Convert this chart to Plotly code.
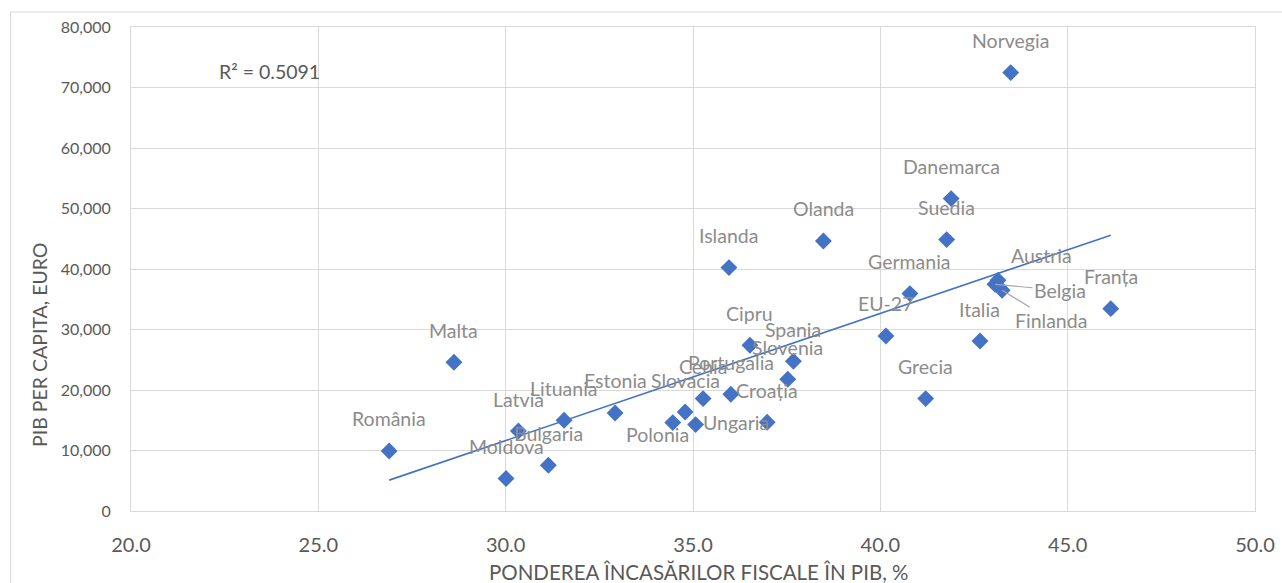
import numpy as np
import plotly.graph_objects as go

# Country names, tax revenue share of GDP (%) and GDP per capita (EUR)
countries = [
    "Norvegia", "Danemarca", "Suedia", "Olanda", "Islanda", "Germania",
    "Austria", "Belgia", "Finlanda", "Franța", "EU-27", "Italia", "Grecia",
    "Cipru", "Spania", "Slovenia", "Portugalia", "Cehia", "Croația",
    "Slovacia", "Polonia", "Ungaria", "Estonia", "Lituania", "Latvia",
    "Bulgaria", "Moldova", "România", "Malta",
]
tax_share = [
    43.48, 41.89, 41.77, 38.48, 35.96, 40.79,
    43.14, 43.06, 43.25, 46.15, 40.15, 42.66, 41.21,
    36.52, 37.68, 37.53, 36.01, 35.27, 36.98,
    34.79, 34.46, 35.07, 32.92, 31.56, 30.34,
    31.14, 30.01, 26.89, 28.62,
]
gdp_pc = [
    72460, 51640, 44860, 44630, 40230, 35930,
    38130, 37470, 36480, 33450, 28930, 28100, 18580,
    27390, 24740, 21770, 19290, 18580, 14660,
    16360, 14610, 14280, 16200, 14990, 13220,
    7550, 5360, 9920, 24580,
]

x_ticks = [20, 25, 30, 35, 40, 45, 50]
y_ticks = [0, 10000, 20000, 30000, 40000, 50000, 60000, 70000, 80000]
r2_text = "R² = 0.5091"

BLUE = "#4472C4"
GRID = "#D9D9D9"
TICK = "#595959"
LABEL = "#8C8C8C"
FONT = "Lato"

fig = go.Figure()

# Linear trend line across the observed range
xs = np.array(tax_share)
ys = np.array(gdp_pc)
slope, intercept = np.polyfit(xs, ys, 1)
trend_x = np.array([xs.min(), xs.max()])
fig.add_trace(go.Scatter(
    x=trend_x, y=slope * trend_x + intercept, mode="lines",
    line=dict(color=BLUE, width=1.6), hoverinfo="skip", showlegend=False,
))

fig.add_trace(go.Scatter(
    x=tax_share, y=gdp_pc, mode="markers", text=countries,
    marker=dict(symbol="diamond", size=13, color=BLUE),
    showlegend=False,
))

# Data labels: above each point, a few shifted to avoid overlaps
shifts = {"Polonia": (-15, -12), "Ungaria": (40, 2), "Austria": (44, 25)}
leaders = {"Belgia": (65, 6), "Finlanda": (49, 30)}
label_font = dict(family=FONT, size=19.5, color=LABEL)
annotations = []
for name, xv, yv in zip(countries, tax_share, gdp_pc):
    if name in leaders:
        ax, ay = leaders[name]
        annotations.append(dict(
            x=xv, y=yv, xref="x", yref="y", text=name, showarrow=True,
            arrowhead=0, arrowwidth=1.2, arrowcolor="#A6A6A6", ax=ax, ay=ay,
            standoff=0, font=label_font,
        ))
    else:
        dx, dy = shifts.get(name, (0, 32))
        annotations.append(dict(
            x=xv, y=yv, xref="x", yref="y", text=name, showarrow=False,
            xshift=dx, yshift=dy, font=label_font,
        ))

annotations.append(dict(
    x=23.7, y=72600, xref="x", yref="y", text=r2_text, showarrow=False,
    font=dict(family=FONT, size=19.5, color=TICK),
))
annotations.append(dict(
    x=0.505, y=-0.126, xref="paper", yref="paper",
    xanchor="center", yanchor="middle",
    text="PONDEREA ÎNCASĂRILOR FISCALE ÎN PIB, %", showarrow=False,
    font=dict(family=FONT, size=20.5, color=TICK),
))
annotations.append(dict(
    x=-0.081, y=0.343, xref="paper", yref="paper",
    xanchor="center", yanchor="middle", textangle=-90,
    text="PIB PER CAPITA, EURO", showarrow=False,
    font=dict(family=FONT, size=19.5, color=TICK),
))

fig.update_layout(
    width=1282, height=583,
    margin=dict(l=131, r=27, t=27, b=72, autoexpand=False),
    paper_bgcolor="white", plot_bgcolor="white",
    annotations=annotations,
    shapes=[
        # outer chart frame
        dict(type="line", xref="paper", yref="paper", x0=-0.1072, x1=1.05,
             y0=1.031, y1=1.031, line=dict(color=GRID, width=1.2)),
        dict(type="line", xref="paper", yref="paper", x0=-0.1072, x1=-0.1072,
             y0=1.031, y1=-0.2, line=dict(color=GRID, width=1.2)),
    ],
)
fig.update_xaxes(
    range=[20, 50], tickvals=x_ticks, tickformat=".1f", automargin=False,
    showgrid=True, gridcolor=GRID, gridwidth=1, zeroline=False,
    showline=True, linecolor=GRID, mirror=True,
    ticks="", ticklabelstandoff=16,
    tickfont=dict(family=FONT, size=20, color=TICK),
)
fig.update_yaxes(
    range=[0, 80000], tickvals=y_ticks, tickformat=",", automargin=False,
    showgrid=True, gridcolor=GRID, gridwidth=1, zeroline=False,
    showline=True, linecolor=GRID, mirror=True,
    ticks="", ticklabelstandoff=16,
    tickfont=dict(family=FONT, size=16, color=TICK),
)

fig.write_html("out.html")
